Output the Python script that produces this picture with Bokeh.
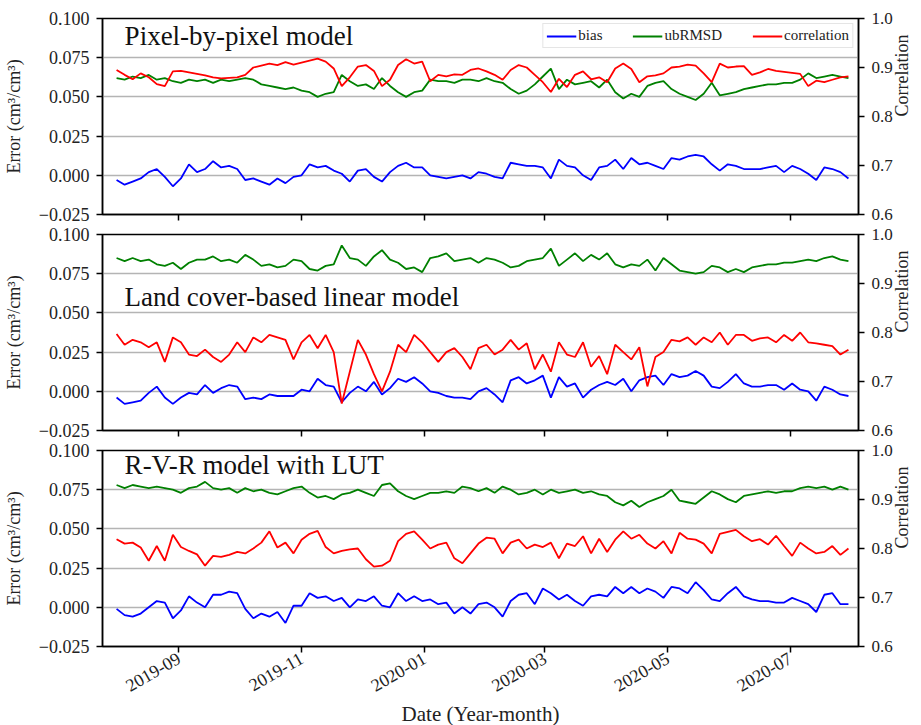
import pandas as pd
from math import pi
from bokeh.plotting import figure
from bokeh.models import (Range1d, LinearAxis, FixedTicker, DatetimeTickFormatter,
                          CustomJSTickFormatter, Label, Legend, LegendItem)
from bokeh.layouts import column
from bokeh.embed import file_html
from bokeh.resources import INLINE

# ---------------- data (every 4th day) ----------------
dates = pd.date_range("2019-08-01", periods=92, freq="4D")
month_ticks = ["2019-09-01", "2019-11-01", "2020-01-01", "2020-03-01", "2020-05-01", "2020-07-01"]
panel_titles = ["Pixel-by-pixel model", "Land cover-based linear model", "R-V-R model with LUT"]
series_names = ["bias", "ubRMSD", "correlation"]
error_ticks = [-0.025, 0.0, 0.025, 0.05, 0.075, 0.1]
corr_ticks = [0.6, 0.7, 0.8, 0.9, 1.0]

p1_bias = [-0.003, -0.006, -0.004, -0.002, 0.002, 0.004, -0.001, -0.007, -0.002, 0.007,
           0.002, 0.004, 0.009, 0.005, 0.006, 0.004, -0.003, -0.002, -0.004, -0.006,
           -0.002, -0.005, -0.001, 0.000, 0.007, 0.005, 0.006, 0.003, 0.001, -0.004,
           0.003, 0.004, -0.001, -0.004, 0.002, 0.006, 0.008, 0.005, 0.005, 0.000,
           -0.001, -0.002, -0.001, 0.000,
           -0.002, 0.002, 0.001, -0.001, -0.002, 0.008, 0.007, 0.006, 0.006, 0.005,
           -0.002, 0.010, 0.006, 0.005, 0.000, -0.003, 0.005, 0.006, 0.010, 0.004,
           0.011, 0.007, 0.008, 0.006, 0.004, 0.011, 0.010, 0.012, 0.013, 0.012,
           0.007, 0.003, 0.007, 0.006, 0.004, 0.004, 0.004, 0.005, 0.006, 0.002,
           0.006, 0.004, 0.001, -0.003, 0.005, 0.004, 0.002, -0.002]
p1_ubrmsd = [0.062, 0.061, 0.063, 0.062, 0.064, 0.061, 0.062, 0.060, 0.059, 0.061,
             0.060, 0.061, 0.059, 0.061, 0.060, 0.061, 0.062, 0.061, 0.058, 0.057,
             0.056, 0.055, 0.056, 0.054, 0.053,
             0.050, 0.052, 0.053, 0.064, 0.060, 0.057, 0.058, 0.055, 0.062, 0.057,
             0.053, 0.050, 0.053, 0.054, 0.061, 0.060, 0.060, 0.059, 0.061,
             0.061, 0.060, 0.062, 0.060, 0.059, 0.055, 0.052, 0.054, 0.058, 0.063,
             0.068, 0.055, 0.061, 0.058, 0.059, 0.060, 0.056, 0.061, 0.053, 0.049,
             0.052, 0.050, 0.057, 0.059, 0.060, 0.055, 0.052, 0.050, 0.048, 0.052,
             0.059, 0.051, 0.052, 0.053, 0.055, 0.056, 0.057, 0.058, 0.058, 0.059,
             0.059, 0.061, 0.065, 0.062, 0.063, 0.064, 0.063, 0.062]
p1_corr = [0.895, 0.885, 0.876, 0.888, 0.880, 0.866, 0.862, 0.892, 0.893, 0.890,
           0.887, 0.884, 0.880, 0.878, 0.879, 0.880, 0.885, 0.900, 0.904, 0.908,
           0.905, 0.911, 0.906, 0.910, 0.914, 0.918, 0.912, 0.898, 0.862, 0.880,
           0.902, 0.905, 0.893, 0.862, 0.875, 0.905, 0.917, 0.908, 0.912, 0.872,
           0.885, 0.882, 0.886, 0.885,
           0.895, 0.898, 0.892, 0.885, 0.875, 0.895, 0.905, 0.900, 0.885, 0.870,
           0.850, 0.877, 0.860, 0.885, 0.892, 0.876, 0.880, 0.870, 0.898, 0.908,
           0.897, 0.870, 0.882, 0.884, 0.888, 0.900, 0.902, 0.906, 0.904, 0.888,
           0.870, 0.908, 0.900, 0.902, 0.903, 0.885, 0.890, 0.897, 0.893, 0.891,
           0.889, 0.887, 0.862, 0.873, 0.870, 0.875, 0.880, 0.882]

p2_bias = [-0.004, -0.008, -0.007, -0.006, -0.001, 0.003, -0.004, -0.008, -0.004, -0.001,
           -0.002, 0.004, -0.001, 0.002, 0.004, 0.003, -0.005, -0.004, -0.005, -0.002,
           -0.003, -0.003, -0.003, 0.001, 0.000, 0.008, 0.004, 0.003, -0.007, -0.001,
           0.003, 0.000, 0.006, -0.002, 0.002, 0.008, 0.006, 0.009, 0.005, 0.000,
           -0.001, -0.003, -0.004, -0.004,
           -0.005, 0.000, 0.002, -0.002, -0.007, 0.007, 0.009, 0.005, 0.007, 0.010,
           -0.004, 0.009, 0.003, 0.005, -0.004, 0.001, 0.004, 0.006, 0.004, 0.008,
           0.000, 0.007, 0.009, 0.010, 0.004, 0.011, 0.009, 0.010, 0.013, 0.010,
           0.003, 0.002, 0.006, 0.011, 0.005, 0.003, 0.003, 0.004, 0.004, 0.001,
           0.005, 0.001, 0.000, -0.006, 0.003, 0.001, -0.002, -0.003]
p2_ubrmsd = [0.085, 0.083, 0.085, 0.083, 0.084, 0.081, 0.080, 0.082, 0.078, 0.082,
             0.084, 0.084, 0.086, 0.083, 0.084, 0.082, 0.087, 0.084, 0.080, 0.081,
             0.079, 0.080, 0.084, 0.083, 0.078, 0.077, 0.080, 0.081, 0.093, 0.085,
             0.084, 0.080, 0.086, 0.090, 0.084, 0.082, 0.078, 0.079, 0.076, 0.085,
             0.086, 0.088, 0.083, 0.084,
             0.085, 0.082, 0.085, 0.084, 0.082, 0.079, 0.080, 0.083, 0.084, 0.085,
             0.091, 0.080, 0.084, 0.088, 0.083, 0.087, 0.084, 0.088, 0.081, 0.079,
             0.081, 0.080, 0.084, 0.077, 0.085, 0.081, 0.077, 0.076, 0.075, 0.076,
             0.080, 0.079, 0.076, 0.078, 0.076, 0.079, 0.080, 0.081, 0.081, 0.082,
             0.082, 0.083, 0.084, 0.083, 0.085, 0.086, 0.084, 0.083]
p2_corr = [0.797, 0.775, 0.785, 0.780, 0.770, 0.780, 0.740, 0.790, 0.780, 0.755,
           0.752, 0.765, 0.750, 0.740, 0.755, 0.780, 0.760, 0.790, 0.780, 0.795,
           0.790, 0.785, 0.745, 0.780, 0.795, 0.768, 0.795, 0.760, 0.655, 0.720,
           0.785, 0.755, 0.715, 0.680, 0.720, 0.775, 0.760, 0.795, 0.780, 0.760,
           0.740, 0.760, 0.768, 0.750,
           0.725, 0.768, 0.775, 0.755, 0.765, 0.785, 0.765, 0.778, 0.725, 0.755,
           0.720, 0.780, 0.755, 0.750, 0.780, 0.730, 0.752, 0.715, 0.775, 0.760,
           0.745, 0.770, 0.690, 0.750, 0.760, 0.785, 0.782, 0.790, 0.775, 0.790,
           0.780, 0.800, 0.775, 0.795, 0.795, 0.783, 0.788, 0.790, 0.780, 0.795,
           0.783, 0.800, 0.780, 0.778, 0.775, 0.772, 0.755, 0.765]

p3_bias = [-0.001, -0.005, -0.006, -0.004, 0.000, 0.004, 0.003, -0.007, -0.002, 0.007,
           0.003, 0.000, 0.008, 0.008, 0.010, 0.009, -0.001, -0.007, -0.004, -0.006,
           -0.003, -0.010, 0.001, 0.001, 0.009, 0.006, 0.007, 0.004, 0.006, 0.000,
           0.005, 0.004, 0.007, 0.001, 0.000, 0.009, 0.004, 0.007, 0.004, 0.005,
           0.002, 0.003, -0.004, 0.000,
           -0.004, 0.002, 0.003, 0.000, -0.006, 0.004, 0.008, 0.009, 0.002, 0.012,
           0.009, 0.005, 0.008, 0.004, 0.001, 0.007, 0.008, 0.007, 0.013, 0.009,
           0.013, 0.009, 0.012, 0.010, 0.006, 0.013, 0.012, 0.009, 0.016, 0.011,
           0.005, 0.004, 0.009, 0.013, 0.007, 0.005, 0.004, 0.004, 0.003, 0.003,
           0.006, 0.004, 0.002, -0.003, 0.008, 0.009, 0.002, 0.002]
p3_ubrmsd = [0.078, 0.076, 0.078, 0.077, 0.076, 0.077, 0.076, 0.075, 0.073, 0.076,
             0.077, 0.080, 0.076, 0.075, 0.076, 0.073, 0.076, 0.074, 0.075, 0.073,
             0.072, 0.074, 0.076, 0.077, 0.073, 0.070, 0.071, 0.069, 0.072, 0.073,
             0.075, 0.073, 0.071, 0.078, 0.079, 0.074, 0.071, 0.069, 0.071, 0.073,
             0.073, 0.074, 0.073, 0.077,
             0.076, 0.074, 0.076, 0.073, 0.077, 0.075, 0.072, 0.073, 0.075, 0.072,
             0.075, 0.073, 0.074, 0.075, 0.073, 0.074, 0.072, 0.071, 0.067, 0.065,
             0.068, 0.064, 0.067, 0.069, 0.071, 0.075, 0.068, 0.067, 0.066, 0.070,
             0.074, 0.072, 0.069, 0.067, 0.071, 0.072, 0.073, 0.074, 0.073, 0.074,
             0.074, 0.076, 0.077, 0.076, 0.077, 0.075, 0.077, 0.075]
p3_corr = [0.819, 0.810, 0.812, 0.802, 0.775, 0.805, 0.775, 0.828, 0.803, 0.795,
           0.788, 0.765, 0.785, 0.783, 0.787, 0.793, 0.790, 0.800, 0.812, 0.835,
           0.802, 0.812, 0.790, 0.818, 0.830, 0.836, 0.803, 0.790, 0.795, 0.798,
           0.800, 0.778, 0.763, 0.765, 0.775, 0.815, 0.830, 0.835, 0.818, 0.800,
           0.808, 0.812, 0.780, 0.770,
           0.790, 0.810, 0.822, 0.820, 0.790, 0.812, 0.818, 0.800, 0.808, 0.803,
           0.812, 0.780, 0.810, 0.805, 0.825, 0.790, 0.820, 0.793, 0.818, 0.835,
           0.820, 0.828, 0.810, 0.800, 0.815, 0.790, 0.832, 0.820, 0.818, 0.810,
           0.790, 0.830, 0.834, 0.838, 0.825, 0.815, 0.819, 0.808, 0.826, 0.805,
           0.785, 0.812, 0.800, 0.790, 0.793, 0.805, 0.787, 0.800]

panels = [(p1_bias, p1_ubrmsd, p1_corr), (p2_bias, p2_ubrmsd, p2_corr), (p3_bias, p3_ubrmsd, p3_corr)]
for trio in panels:
    for s in trio:
        assert len(s) == len(dates), len(s)

# title anchor (data coords): start date and y value of the text baseline
title_x = pd.Timestamp("2019-08-05")
title_y = [0.089, 0.060, 0.0905]

FONT = "Liberation Serif"
colors = ["#0000ff", "#008000", "#ff0000"]

x_range = Range1d(start=pd.Timestamp("2019-07-25"), end=pd.Timestamp("2020-08-04"))
tick_ms = [pd.Timestamp(s).timestamp() * 1000 for s in month_ticks]

err_fmt = CustomJSTickFormatter(code="return (tick < -1e-9 ? '\u2212' : '') + Math.abs(tick).toFixed(3);")
cor_fmt = CustomJSTickFormatter(code="return tick.toFixed(1);")
blank_fmt = CustomJSTickFormatter(code="return '';")


def style_axis(ax, size="18px"):
    ax.axis_line_color = "black"
    ax.axis_line_width = 1.5
    ax.major_tick_line_color = "black"
    ax.major_tick_line_width = 1.5
    ax.major_tick_out = 6
    ax.major_tick_in = 0
    ax.minor_tick_line_color = None
    ax.major_label_text_font = FONT
    ax.major_label_text_font_size = size
    ax.major_label_text_color = "#222222"
    ax.axis_label_text_font = FONT
    ax.axis_label_text_font_size = "18px"
    ax.axis_label_text_font_style = "normal"
    ax.axis_label_text_color = "#222222"


figs = []
for i, (bias, ubrmsd, corr) in enumerate(panels):
    last = i == 2
    p = figure(x_axis_type="datetime", x_range=x_range, y_range=Range1d(-0.025, 0.1),
               frame_width=756, frame_height=196,
               min_border_left=102, min_border_right=63,
               min_border_top=18 if i == 0 else 10,
               min_border_bottom=79 if last else 10,
               output_backend="svg", toolbar_location=None,
               background_fill_color="white", border_fill_color="white")
    p.extra_y_ranges = {"corr": Range1d(0.6, 1.0)}
    p.outline_line_color = "black"
    p.outline_line_width = 1.5
    p.outline_line_alpha = 1.0

    # left axis
    yl = p.yaxis[0]
    yl.ticker = FixedTicker(ticks=error_ticks)
    yl.formatter = err_fmt
    yl.axis_label = "Error (cm\u00b3/cm\u00b3)"
    style_axis(yl)
    yl.major_label_standoff = 7
    yl.axis_label_standoff = 12

    # right axis
    yr = LinearAxis(y_range_name="corr", ticker=FixedTicker(ticks=corr_ticks),
                    formatter=cor_fmt, axis_label="Correlation")
    style_axis(yr, "17px")
    yr.major_label_standoff = 7
    yr.axis_label_standoff = 6
    yr.axis_label_orientation = pi / 2
    p.add_layout(yr, "right")

    # x axis
    xa = p.xaxis[0]
    xa.ticker = FixedTicker(ticks=tick_ms)
    style_axis(xa, "18px")
    if last:
        xa.formatter = DatetimeTickFormatter(years="%Y-%m", months="%Y-%m", days="%Y-%m",
                                             hours="%Y-%m", minutes="%Y-%m")
        xa.major_label_orientation = pi / 6
        xa.major_label_standoff = 4
        xa.axis_label = "Date (Year-month)"
        xa.axis_label_text_font_size = "21px"
        xa.axis_label_standoff = 1
    else:
        xa.formatter = blank_fmt
        xa.major_label_standoff = 0
        xa.major_label_text_font_size = "1px"

    p.xgrid.visible = False
    p.ygrid.grid_line_color = "#b4b4b4"
    p.ygrid.grid_line_width = 1.3

    r_b = p.line(dates, bias, line_color=colors[0], line_width=1.8)
    r_u = p.line(dates, ubrmsd, line_color=colors[1], line_width=1.8)
    r_c = p.line(dates, corr, line_color=colors[2], line_width=1.8, y_range_name="corr")

    p.add_layout(Label(x=title_x, y=title_y[i], text=panel_titles[i], text_font=FONT,
                       text_font_size="27px", text_color="#111111", text_baseline="alphabetic"))

    if i == 0:
        leg = Legend(items=[LegendItem(label=series_names[0], renderers=[r_b]),
                            LegendItem(label=series_names[1], renderers=[r_u]),
                            LegendItem(label=series_names[2], renderers=[r_c])],
                     orientation="horizontal", location="top_right")
        leg.margin = 5
        leg.padding = 3
        leg.spacing = 30
        leg.glyph_width = 30
        leg.glyph_height = 14
        leg.label_height = 14
        leg.label_standoff = 2
        leg.label_text_font = FONT
        leg.label_text_font_size = "15px"
        leg.label_text_color = "#222222"
        leg.border_line_color = "#cccccc"
        leg.border_line_width = 1
        leg.background_fill_color = "white"
        leg.background_fill_alpha = 1.0
        p.add_layout(leg)
    figs.append(p)

layout = column(*figs, spacing=0)
open("out.html", "w").write(file_html(layout, INLINE))
